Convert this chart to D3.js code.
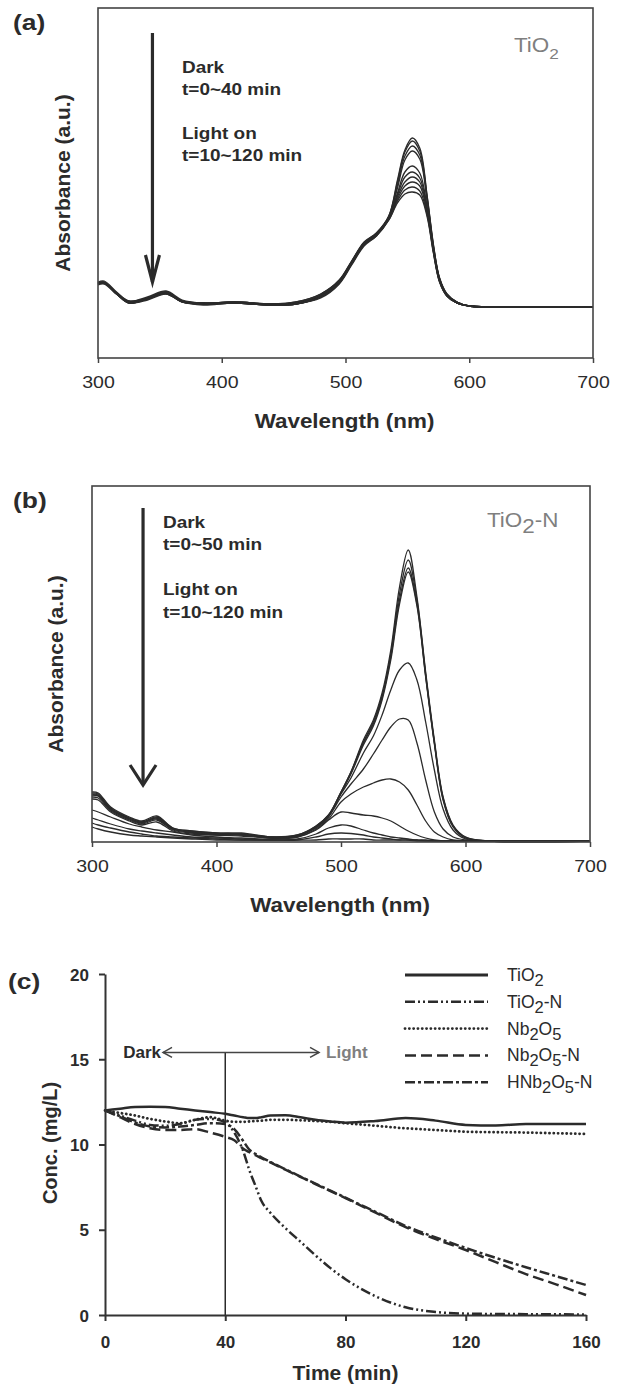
<!DOCTYPE html>
<html>
<head>
<meta charset="utf-8">
<script src="https://cdn.jsdelivr.net/npm/d3@7"></script>
<style>
body { margin: 0; background: #fff; }
text { font-family: "Liberation Sans", Arial, sans-serif; }
</style>
</head>
<body>
<script>
// ---- data: panel (a) TiO2 spectra ----
var wlA = [300, 305, 315, 325, 340, 355, 368, 385, 410, 440, 460, 480, 495, 505, 515, 525,
           535, 542, 548, 554, 560, 566, 571, 576, 582, 590, 600, 620, 700];
var absA = [
  [0.75,0.76,0.65,0.56,0.60,0.66,0.57,0.55,0.56,0.54,0.56,0.64,0.78,0.97,1.15,1.25, 1.42,1.78,2.08,2.20,2.10,1.62,1.14,0.80, 0.64,0.56,0.52,0.51,0.51],
  [0.76,0.77,0.66,0.57,0.61,0.67,0.58,0.55,0.56,0.54,0.56,0.64,0.78,0.97,1.16,1.25, 1.42,1.76,2.06,2.17,2.07,1.61,1.13,0.80, 0.64,0.56,0.52,0.51,0.51],
  [0.74,0.75,0.64,0.56,0.59,0.65,0.57,0.54,0.55,0.53,0.55,0.63,0.77,0.96,1.15,1.24, 1.41,1.73,2.02,2.12,2.03,1.59,1.12,0.79, 0.63,0.56,0.52,0.51,0.51],
  [0.75,0.76,0.65,0.57,0.60,0.66,0.57,0.55,0.56,0.54,0.55,0.63,0.77,0.96,1.15,1.24, 1.41,1.70,1.98,2.07,1.99,1.57,1.11,0.79, 0.63,0.56,0.52,0.51,0.51],
  [0.74,0.75,0.65,0.56,0.60,0.65,0.57,0.55,0.56,0.54,0.55,0.62,0.76,0.96,1.15,1.24, 1.40,1.65,1.86,1.92,1.85,1.51,1.10,0.78, 0.63,0.55,0.52,0.51,0.51],
  [0.75,0.75,0.64,0.56,0.59,0.65,0.56,0.54,0.55,0.53,0.54,0.62,0.76,0.95,1.14,1.23, 1.40,1.63,1.81,1.86,1.80,1.49,1.09,0.78, 0.63,0.55,0.52,0.51,0.51],
  [0.74,0.75,0.64,0.55,0.59,0.65,0.56,0.54,0.55,0.53,0.54,0.61,0.75,0.95,1.14,1.23, 1.39,1.61,1.76,1.81,1.76,1.47,1.08,0.77, 0.62,0.55,0.52,0.51,0.51],
  [0.75,0.76,0.65,0.56,0.60,0.66,0.57,0.55,0.55,0.53,0.54,0.61,0.75,0.94,1.13,1.23, 1.39,1.59,1.72,1.76,1.72,1.45,1.07,0.77, 0.62,0.55,0.52,0.51,0.51],
  [0.74,0.75,0.64,0.55,0.59,0.64,0.56,0.54,0.55,0.53,0.54,0.61,0.75,0.94,1.13,1.22, 1.38,1.57,1.68,1.71,1.67,1.43,1.06,0.76, 0.62,0.55,0.52,0.51,0.51],
  [0.73,0.74,0.64,0.55,0.58,0.64,0.56,0.53,0.55,0.53,0.54,0.60,0.74,0.93,1.12,1.22, 1.38,1.55,1.64,1.66,1.63,1.41,1.05,0.76, 0.62,0.55,0.52,0.51,0.51]
];

// ---- data: panel (b) TiO2-N spectra ----
var wlB = [300, 305, 315, 330, 340, 352, 365, 380, 400, 420, 445, 465, 480, 490,
           500, 508, 518, 526, 533, 540, 547, 554, 561, 568, 575, 582, 590, 600, 620, 700];
var absB = [
  [0.49,0.48,0.34,0.24,0.20,0.25,0.14,0.11,0.09,0.09,0.05,0.07,0.16,0.27, 0.50,0.70,1.02,1.22,1.49,1.92,2.55,2.92,2.45,1.70,1.02,0.45,0.17,0.05,0.01,0.01],
  [0.50,0.49,0.35,0.25,0.21,0.26,0.14,0.11,0.09,0.08,0.05,0.07,0.16,0.27, 0.50,0.70,1.00,1.20,1.46,1.88,2.48,2.82,2.42,1.68,1.00,0.44,0.16,0.05,0.01,0.01],
  [0.48,0.47,0.33,0.24,0.20,0.24,0.13,0.10,0.08,0.08,0.05,0.06,0.15,0.26, 0.49,0.69,0.99,1.18,1.44,1.85,2.42,2.74,2.38,1.66,0.99,0.43,0.16,0.04,0.01,0.01],
  [0.47,0.46,0.33,0.23,0.19,0.24,0.13,0.10,0.08,0.08,0.04,0.06,0.15,0.26, 0.49,0.68,0.97,1.16,1.42,1.82,2.38,2.70,2.36,1.65,0.98,0.42,0.15,0.04,0.01,0.01],
  [0.47,0.46,0.32,0.23,0.19,0.23,0.13,0.10,0.08,0.07,0.04,0.06,0.15,0.26, 0.48,0.64,0.89,1.06,1.27,1.52,1.72,1.79,1.62,1.20,0.72,0.33,0.12,0.03,0.01,0.01],
  [0.45,0.44,0.31,0.22,0.18,0.22,0.12,0.09,0.07,0.07,0.04,0.06,0.14,0.25, 0.45,0.58,0.73,0.88,1.02,1.15,1.23,1.22,0.99,0.62,0.30,0.13,0.05,0.02,0.01,0.01],
  [0.43,0.42,0.30,0.21,0.17,0.20,0.11,0.08,0.07,0.06,0.04,0.05,0.13,0.23, 0.40,0.48,0.55,0.59,0.62,0.63,0.60,0.52,0.37,0.21,0.10,0.05,0.02,0.01,0.01,0.01],
  [0.32,0.30,0.25,0.18,0.15,0.12,0.10,0.07,0.05,0.04,0.03,0.05,0.12,0.22, 0.30,0.29,0.27,0.26,0.24,0.21,0.16,0.11,0.07,0.04,0.02,0.01,0.01,0.01,0.01,0.01],
  [0.24,0.22,0.18,0.13,0.11,0.09,0.07,0.05,0.04,0.03,0.02,0.03,0.08,0.14, 0.17,0.16,0.12,0.09,0.07,0.05,0.04,0.03,0.02,0.02,0.01,0.01,0.01,0.01,0.01,0.01],
  [0.19,0.17,0.14,0.10,0.08,0.06,0.05,0.04,0.03,0.02,0.02,0.02,0.05,0.08, 0.09,0.085,0.07,0.05,0.04,0.03,0.02,0.02,0.02,0.01,0.01,0.01,0.01,0.01,0.01,0.01],
  [0.15,0.13,0.10,0.07,0.06,0.05,0.04,0.03,0.02,0.02,0.02,0.02,0.02,0.03, 0.03,0.03,0.03,0.02,0.02,0.02,0.02,0.02,0.01,0.01,0.01,0.01,0.01,0.01,0.01,0.01]
];

// ---- data: panel (c) concentration vs time ----
var timeC = [0, 5, 10, 15, 20, 25, 30, 35, 40, 43, 46, 48, 50, 52, 55, 60, 65, 70, 75, 80, 90, 100, 110, 120, 130, 140, 150, 160];
var concTiO2   = [12.0,12.1,12.2,12.22,12.2,12.1,12.0,11.9,11.8,11.7,11.6,11.55,11.55,11.6,11.7,11.72,11.6,11.45,11.35,11.28,11.38,11.55,11.4,11.15,11.12,11.2,11.2,11.2];
var concTiO2N  = [12.0,11.7,11.4,11.15,11.1,11.2,11.45,11.5,11.3,10.7,9.6,8.5,7.6,6.7,6.0,5.1,4.3,3.5,2.75,2.1,1.1,0.45,0.18,0.08,0.06,0.05,0.04,0.03];
var concNb2O5  = [12.0,11.85,11.7,11.5,11.35,11.25,11.45,11.6,11.4,11.33,11.33,11.35,11.38,11.4,11.45,11.45,11.42,11.38,11.33,11.25,11.1,10.95,10.85,10.75,10.72,10.7,10.66,10.62];
var concNb2O5N = [12.0,11.6,11.2,10.95,10.85,10.85,10.9,10.7,10.45,10.25,9.75,9.55,9.38,9.2,8.95,8.52,8.1,7.68,7.27,6.86,6.0,5.15,4.45,3.81,3.1,2.4,1.8,1.17];
var concHNb2O5N= [12.0,11.65,11.3,11.05,11.0,11.05,11.15,11.25,11.2,10.9,10.2,9.7,9.45,9.25,8.98,8.55,8.12,7.7,7.29,6.88,6.05,5.22,4.55,3.93,3.35,2.8,2.28,1.76];

var seriesNames = ["TiO2", "TiO2-N", "Nb2O5", "Nb2O5-N", "HNb2O5-N"];
var seriesConc = [concTiO2, concTiO2N, concNb2O5, concNb2O5N, concHNb2O5N];
var dashes = [null, "10,3,2,3,2,3", "0.1,4.2", "11,5", "10,3,3,3"];

var specTicks = [300, 400, 500, 600, 700];
var timeTicks = [0, 40, 80, 120, 160];
var concTicks = [0, 5, 10, 15, 20];

var width = 622, height = 1387;
var ink = "#2b2b2b", grey = "#7f7f7f";

var svg = d3.select("body").append("svg")
    .attr("width", width)
    .attr("height", height);

// text with a slight horizontal stretch, like the scanned figure
function label(x, y, s, size, opts) {
  opts = opts || {};
  var t = svg.append("text")
    .attr("transform", "translate(" + x + "," + y + ") scale(" + (opts.sx || 1) + ",1)")
    .attr("font-size", size)
    .attr("font-weight", opts.bold ? "bold" : "normal")
    .attr("fill", opts.fill || ink)
    .attr("text-anchor", opts.anchor || "start");
  if (opts.chem) chem(t, s, opts.sub || size, opts.shift || 5);
  else t.text(s);
  return t;
}

// digits in formulas are subscripts
function chem(t, s, subSize, shift) {
  var down = false;
  s.split(/(\d)/).forEach(function(p) {
    if (!p) return;
    if (/\d/.test(p)) {
      t.append("tspan").attr("font-size", subSize).attr("dy", down ? 0 : shift).text(p);
      down = true;
    } else {
      t.append("tspan").attr("dy", down ? -shift : 0).text(p);
      down = false;
    }
  });
}

function arrowDown(x, y0, y1, hw, hh, w) {
  svg.append("line").attr("x1", x).attr("x2", x).attr("y1", y0).attr("y2", y1)
    .attr("stroke", ink).attr("stroke-width", w);
  svg.append("path")
    .attr("d", "M" + (x - hw) + "," + (y1 - hh) + "L" + x + "," + y1 + "L" + (x + hw) + "," + (y1 - hh))
    .attr("fill", "none").attr("stroke", ink).attr("stroke-width", w)
    .attr("stroke-linejoin", "miter");
}

// ---------- spectra panels ----------
function spectrum(wl, data, xr, yr, ymax, arrow, notes, tag, tagX, material, matX, matY, matSub, matShift, ylabX) {
  var x = d3.scaleLinear().domain([300, 700]).range(xr);
  var y = d3.scaleLinear().domain([0, ymax]).range(yr);

  var line = d3.line()
    .x(function(d, i) { return x(wl[i]); })
    .y(function(d) { return y(d); })
    .curve(d3.curveCatmullRom.alpha(0.5));

  svg.append("g").selectAll("path")
    .data(data)
    .enter().append("path")
    .attr("d", line)
    .attr("fill", "none")
    .attr("stroke", ink)
    .attr("stroke-width", 1.3);

  svg.append("rect")
    .attr("x", xr[0]).attr("y", yr[1])
    .attr("width", xr[1] - xr[0]).attr("height", yr[0] - yr[1])
    .attr("fill", "none").attr("stroke", "#444").attr("stroke-width", 1.6);

  var ax = svg.append("g")
    .attr("transform", "translate(0," + yr[0] + ")")
    .call(d3.axisBottom(x).tickValues(specTicks).tickSize(5).tickSizeOuter(0));
  ax.select(".domain").remove();
  ax.selectAll("line").attr("stroke", "#444").attr("stroke-width", 1.5);
  ax.selectAll("text")
    .attr("y", 30).attr("dy", null)
    .attr("transform", "scale(1.15,1)")
    .attr("font-size", 17).attr("fill", ink)
    .attr("font-family", "Liberation Sans, Arial, sans-serif");

  arrowDown(x(arrow[0]), y(arrow[1]), y(arrow[2]), arrow[3], arrow[4], 3.2);

  notes.forEach(function(n) { label(n[0], n[1], n[2], 16.5, {bold: true, sx: 1.15}); });

  label(tagX, yr[1] + 22, tag, 22, {bold: true, sx: 1.2});
  label(matX, matY, material, 19.5, {fill: grey, sx: 1.15, chem: true, sub: matSub, shift: matShift});

  label((xr[0] + xr[1]) / 2 - 1, yr[0] + 70, "Wavelength (nm)", 19.5, {bold: true, sx: 1.15, anchor: "middle"});
  svg.append("text")
    .attr("transform", "translate(" + ylabX + "," + (yr[0] + yr[1]) / 2 + ") rotate(-90)")
    .attr("dy", "0.36em")
    .attr("text-anchor", "middle")
    .attr("font-size", 21).attr("font-weight", "bold").attr("fill", ink)
    .text("Absorbance (a.u.)");
}

spectrum(wlA, absA, [98, 593], [358, 8], 3.5,
  [344, 3.25, 0.76, 7, 27],
  [[182, 73, "Dark"], [182, 95, "t=0~40 min"], [182, 139, "Light on"], [182, 161, "t=10~120 min"]],
  "(a)", 13, "TiO2", 514, 52, 15, 7, 62);

spectrum(wlB, absB, [92, 590], [842, 486], 3.56,
  [341, 3.34, 0.57, 13, 20],
  [[163, 528, "Dark"], [163, 550, "t=0~50 min"], [163, 595, "Light on"], [163, 618, "t=10~120 min"]],
  "(b)", 13, "TiO2-N", 487, 527, 19.5, 6, 55);

// ---------- panel (c) ----------
var xC = d3.scaleLinear().domain([0, 160]).range([105, 586]);
var yC = d3.scaleLinear().domain([0, 20]).range([1315, 974]);

var lineC = d3.line()
  .x(function(d, i) { return xC(timeC[i]); })
  .y(function(d) { return yC(d); })
  .curve(d3.curveMonotoneX);

svg.append("g").selectAll("path")
  .data(seriesConc)
  .enter().append("path")
  .attr("d", lineC)
  .attr("fill", "none")
  .attr("stroke", ink)
  .attr("stroke-width", function(d, i) { return i == 2 ? 2.8 : 2.5; })
  .attr("stroke-linecap", function(d, i) { return i == 2 ? "round" : "butt"; })
  .attr("stroke-dasharray", function(d, i) { return dashes[i]; });

// dark / light marker
svg.append("line")
  .attr("x1", xC(40)).attr("x2", xC(40))
  .attr("y1", yC(0)).attr("y2", yC(15.4))
  .attr("stroke", ink).attr("stroke-width", 1.5);
var ay = yC(15.4), ax0 = xC(19.3), ax1 = xC(71.2);
svg.append("line").attr("x1", ax0).attr("x2", ax1).attr("y1", ay).attr("y2", ay)
  .attr("stroke", "#444").attr("stroke-width", 1.5);
svg.append("path")
  .attr("d", "M" + (ax0 + 9) + "," + (ay - 5) + "L" + ax0 + "," + ay + "L" + (ax0 + 9) + "," + (ay + 5) +
             "M" + (ax1 - 9) + "," + (ay - 5) + "L" + ax1 + "," + ay + "L" + (ax1 - 9) + "," + (ay + 5))
  .attr("fill", "none").attr("stroke", "#444").attr("stroke-width", 1.5);
label(ax0 - 2, ay + 6, "Dark", 17, {bold: true, anchor: "end"});
label(ax1 + 7, ay + 6, "Light", 17, {bold: true, fill: grey});

var gy = svg.append("g")
  .attr("transform", "translate(" + xC(0) + ",0)")
  .call(d3.axisLeft(yC).tickValues(concTicks).tickSize(6).tickSizeOuter(0));
var gx = svg.append("g")
  .attr("transform", "translate(0," + yC(0) + ")")
  .call(d3.axisBottom(xC).tickValues(timeTicks).tickSize(6).tickSizeOuter(0));
[gx, gy].forEach(function(g) {
  g.select(".domain").attr("stroke", "#333").attr("stroke-width", 2);
  g.selectAll("line").attr("stroke", "#333").attr("stroke-width", 2);
  g.selectAll("text").attr("font-size", 17).attr("font-weight", "bold").attr("fill", ink)
    .attr("font-family", "Liberation Sans, Arial, sans-serif");
});
gx.selectAll("text").attr("y", 33).attr("dy", null);
gy.selectAll("text").attr("x", -16).attr("dy", "0.36em");

label(8, 989, "(c)", 22, {bold: true, sx: 1.2});
label(xC(80), 1380, "Time (min)", 21, {bold: true, anchor: "middle"});
svg.append("text")
  .attr("transform", "translate(50,1143) rotate(-90)")
  .attr("dy", "0.36em")
  .attr("text-anchor", "middle")
  .attr("font-size", 20).attr("font-weight", "bold").attr("fill", ink)
  .text("Conc. (mg/L)");

// legend
var leg = svg.append("g").attr("transform", "translate(405,975)");
var rows = leg.selectAll("g")
  .data(seriesNames)
  .enter().append("g")
  .attr("transform", function(d, i) { return "translate(0," + (i * 26.8) + ")"; });
rows.append("line")
  .attr("x1", 0).attr("x2", 83)
  .attr("stroke", ink)
  .attr("stroke-width", function(d, i) { return i == 0 ? 3 : (i == 2 ? 2.8 : 2.5); })
  .attr("stroke-linecap", function(d, i) { return i == 2 ? "round" : "butt"; })
  .attr("stroke-dasharray", function(d, i) { return dashes[i]; });
rows.each(function(d) {
  var t = d3.select(this).append("text")
    .attr("x", 102).attr("y", 6)
    .attr("font-size", 17.5).attr("fill", ink);
  chem(t, d, 16.5, 5);
});
</script>
</body>
</html>
